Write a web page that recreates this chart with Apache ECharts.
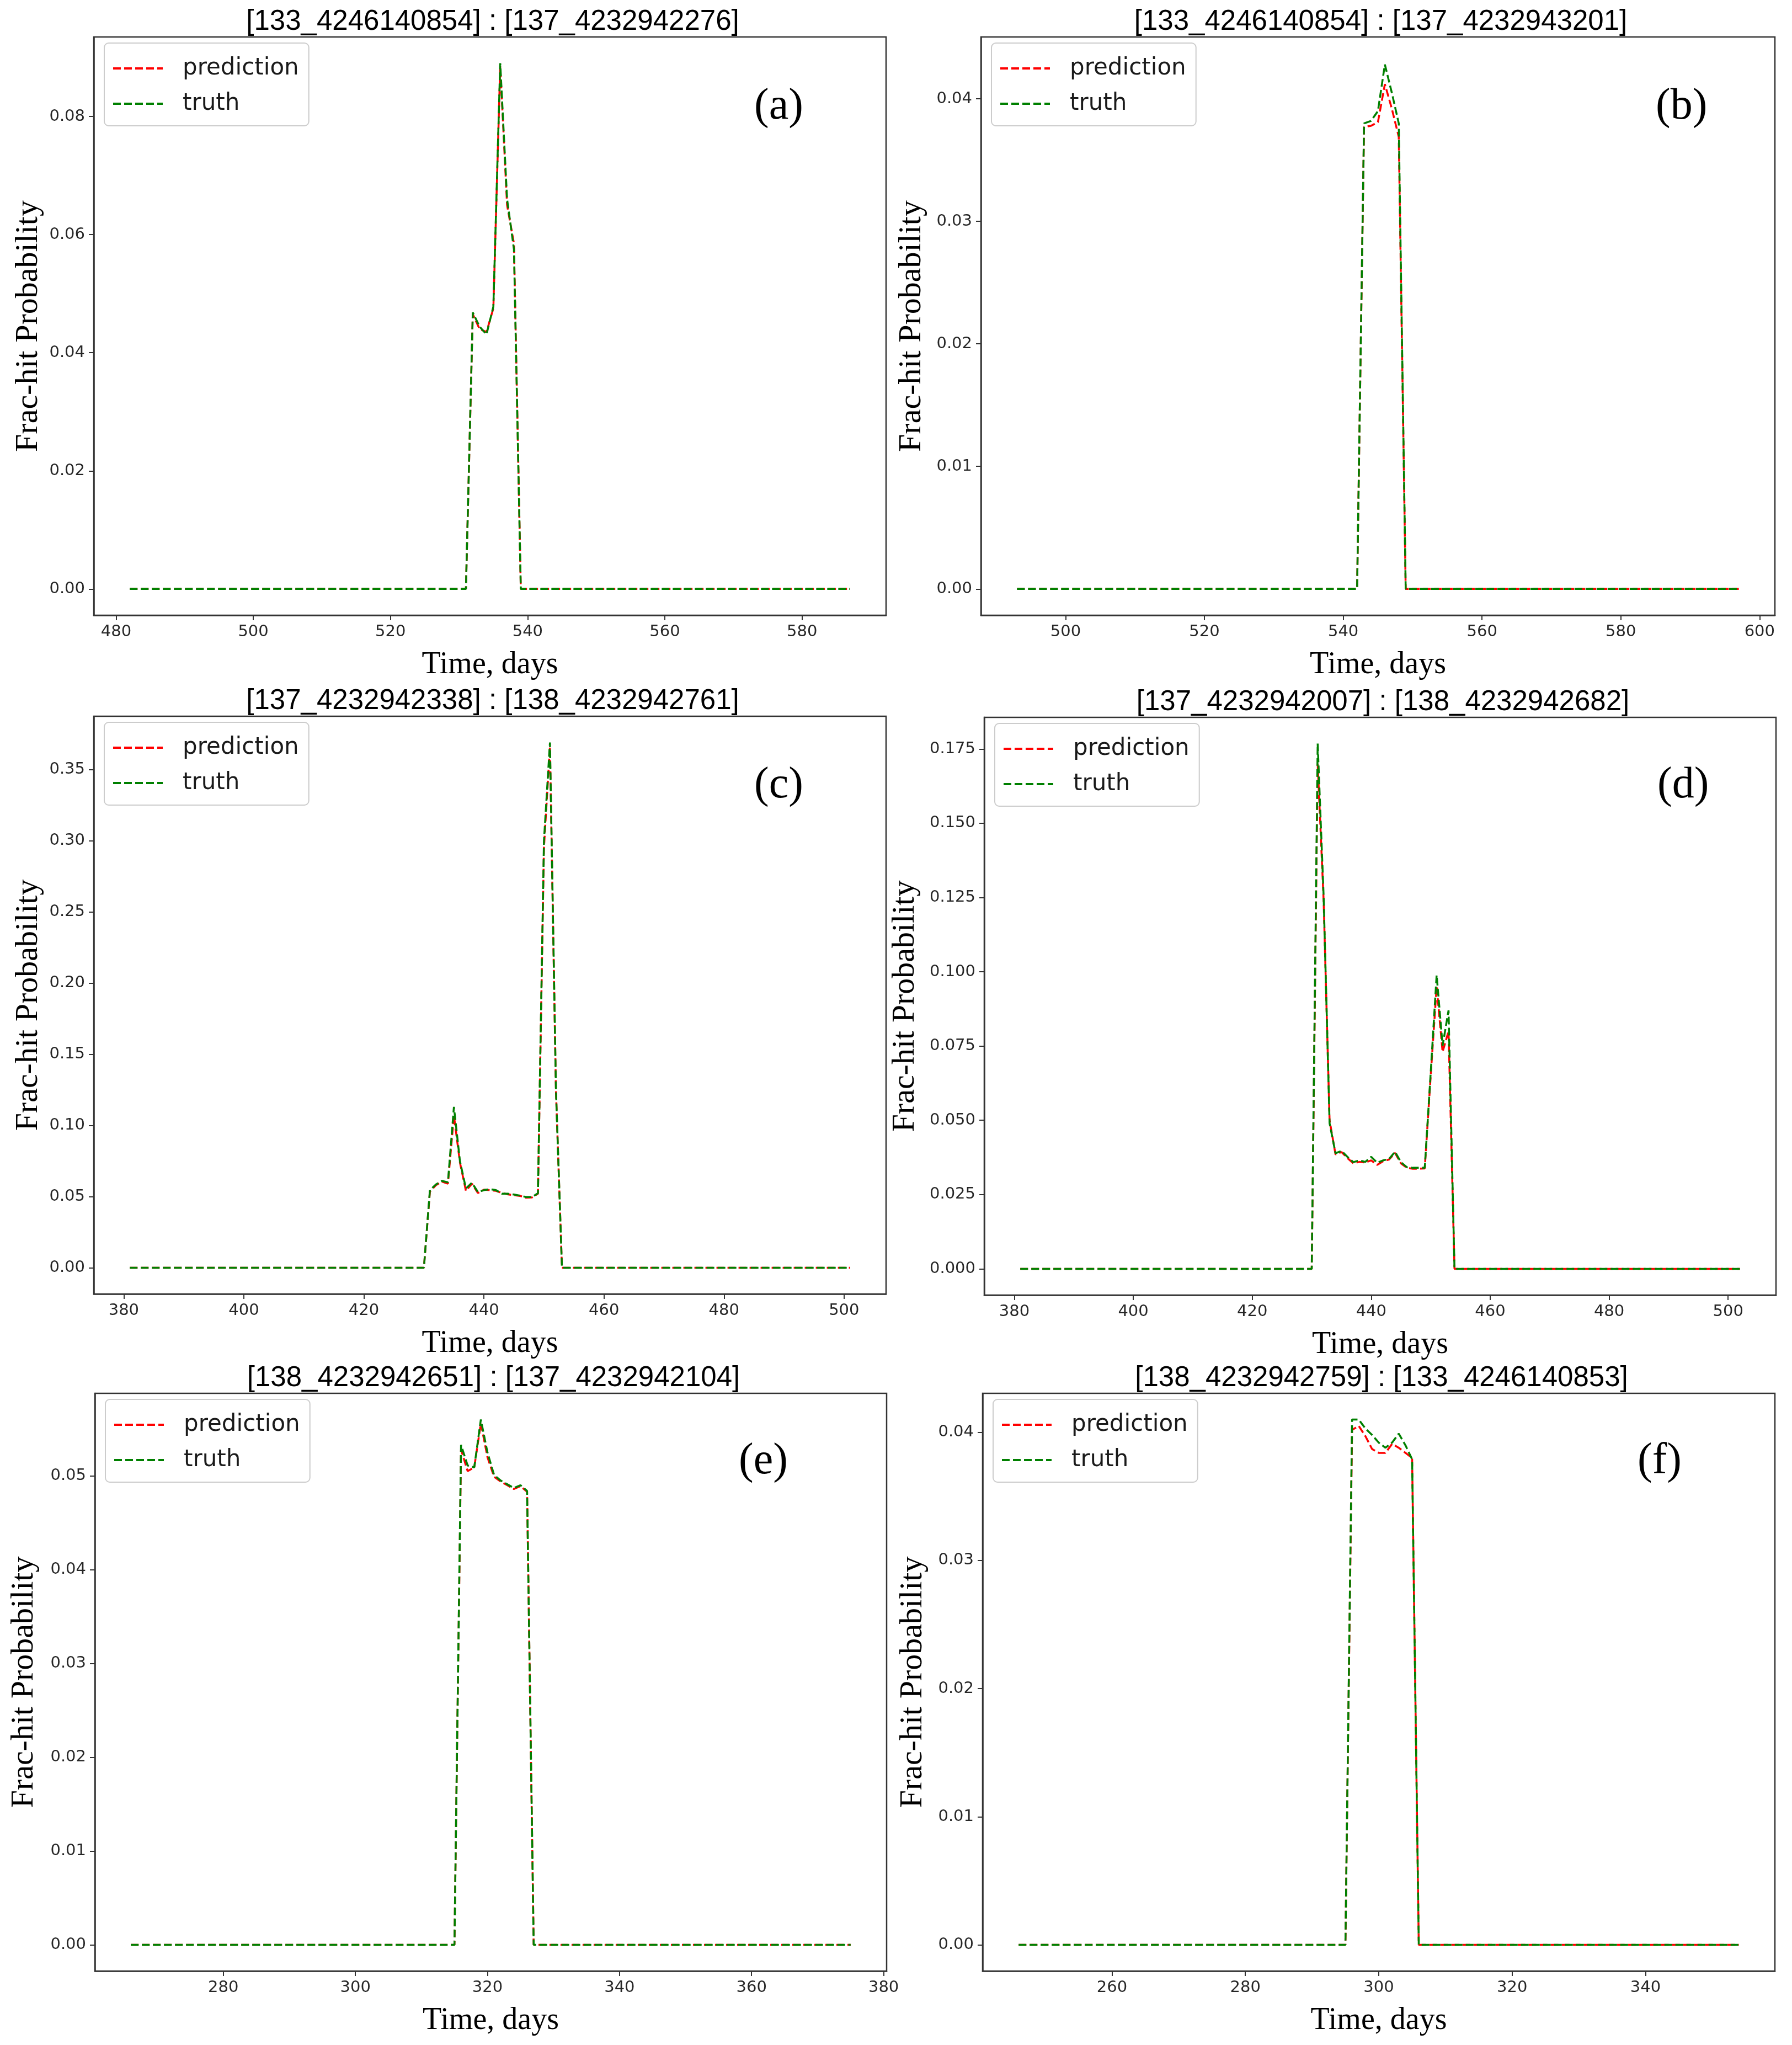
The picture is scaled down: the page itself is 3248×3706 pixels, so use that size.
<!DOCTYPE html>
<html>
<head>
<meta charset="utf-8">
<script src="https://cdn.jsdelivr.net/npm/echarts@6/dist/echarts.min.js"></script>
<style>
html,body{margin:0;padding:0;background:#fff;}
#chart{width:3248px;height:3706px;}
</style>
</head>
<body>
<div id="chart"></div>
<script>
// ---------------- data ----------------
// (a)
const aDays  = [482, 531, 532, 533, 534, 535, 536, 537, 538, 539, 587];
const aTruth = [0, 0, 0.0468, 0.0444, 0.0431, 0.0478, 0.0890, 0.0660, 0.0575, 0, 0];
const aPred  = [0, 0, 0.0465, 0.0440, 0.0435, 0.0475, 0.0885, 0.0650, 0.0585, 0, 0];
// (b)
const bDays  = [493, 542, 543, 544, 545, 546, 547, 548, 549, 597];
const bTruth = [0, 0, 0.0380, 0.0382, 0.0390, 0.0428, 0.0405, 0.0380, 0, 0];
const bPred  = [0, 0, 0.0377, 0.0378, 0.0381, 0.0412, 0.0392, 0.0369, 0, 0];
// (c)
const cDays  = [381, 430, 431, 432, 433, 434, 435, 436, 437, 438, 439, 440, 441, 442, 443, 444, 445, 446, 447, 448, 449, 450, 451, 452, 453, 501];
const cTruth = [0, 0, 0.0545, 0.0585, 0.0610, 0.0600, 0.1130, 0.0750, 0.0557, 0.0597, 0.0532, 0.0545, 0.0552, 0.0545, 0.0520, 0.0520, 0.0514, 0.0507, 0.0497, 0.0497, 0.0523, 0.300, 0.369, 0.125, 0, 0];
const cPred  = [0, 0, 0.0535, 0.0580, 0.0605, 0.0590, 0.1070, 0.0740, 0.0540, 0.0590, 0.0525, 0.0548, 0.0545, 0.0540, 0.0525, 0.0515, 0.0510, 0.0505, 0.0492, 0.0494, 0.0520, 0.295, 0.366, 0.124, 0, 0];
// (d)
const dDays  = [381, 430, 431, 432, 433, 434, 435, 436, 437, 438, 439, 440, 441, 442, 443, 444, 445, 446, 447, 448, 449, 450, 451, 452, 453, 454, 502];
const dTruth = [0, 0, 0.1768, 0.1254, 0.0490, 0.0389, 0.0397, 0.0377, 0.0359, 0.0365, 0.0360, 0.0377, 0.0357, 0.0365, 0.0370, 0.0394, 0.0359, 0.0342, 0.0340, 0.0340, 0.0340, 0.0660, 0.0989, 0.0751, 0.0870, 0, 0];
const dPred  = [0, 0, 0.1700, 0.1240, 0.0500, 0.0385, 0.0393, 0.0373, 0.0355, 0.0360, 0.0358, 0.0365, 0.0350, 0.0362, 0.0368, 0.0390, 0.0355, 0.0340, 0.0337, 0.0337, 0.0338, 0.0650, 0.0950, 0.0730, 0.0800, 0, 0];
// (e)
const eDays  = [266, 315, 316, 317, 318, 319, 320, 321, 322, 323, 324, 325, 326, 327, 375];
const eTruth = [0, 0, 0.0533, 0.0511, 0.0509, 0.0560, 0.0525, 0.0501, 0.0495, 0.0491, 0.0487, 0.0490, 0.0484, 0, 0];
const ePred  = [0, 0, 0.0528, 0.0505, 0.0509, 0.0556, 0.0520, 0.0499, 0.0494, 0.0490, 0.0486, 0.0489, 0.0483, 0, 0];
// (f)
const fDays  = [246, 295, 296, 297, 298, 299, 300, 301, 302, 303, 304, 305, 306, 354];
const fTruth = [0, 0, 0.0410, 0.0410, 0.0403, 0.0398, 0.0392, 0.0388, 0.0392, 0.0399, 0.0390, 0.0379, 0, 0];
const fPred  = [0, 0, 0.0402, 0.0405, 0.0397, 0.0387, 0.0384, 0.0384, 0.0391, 0.0388, 0.0384, 0.0380, 0, 0];

// tick labels
const aXTicks = [480, 500, 520, 540, 560, 580];
const aYTicks = [0, 0.02, 0.04, 0.06, 0.08];
const bXTicks = [500, 520, 540, 560, 580, 600];
const bYTicks = [0, 0.01, 0.02, 0.03, 0.04];
const cXTicks = [380, 400, 420, 440, 460, 480, 500];
const cYTicks = [0, 0.05, 0.10, 0.15, 0.20, 0.25, 0.30, 0.35];
const dXTicks = [380, 400, 420, 440, 460, 480, 500];
const dYTicks = [0, 0.025, 0.050, 0.075, 0.100, 0.125, 0.150, 0.175];
const eXTicks = [280, 300, 320, 340, 360, 380];
const eYTicks = [0, 0.01, 0.02, 0.03, 0.04, 0.05];
const fXTicks = [260, 280, 300, 320, 340];
const fYTicks = [0, 0.01, 0.02, 0.03, 0.04];

const titles = [
  '[133_4246140854] : [137_4232942276]',
  '[133_4246140854] : [137_4232943201]',
  '[137_4232942338] : [138_4232942761]',
  '[137_4232942007] : [138_4232942682]',
  '[138_4232942651] : [137_4232942104]',
  '[138_4232942759] : [133_4246140853]'
];
const letters = ['(a)', '(b)', '(c)', '(d)', '(e)', '(f)'];
const seriesNames = ['prediction', 'truth'];

// ---------------- layout ----------------
const panels = [
  {days:aDays, truth:aTruth, pred:aPred, xt:aXTicks, yt:aYTicks, dec:2, xr:[476.75,592.25], yr:[-0.00445,0.09345],
   grid:{left:170, top:67, width:1436, height:1048}, letter:[1413,198], yGap:89},
  {days:bDays, truth:bTruth, pred:bPred, xt:bXTicks, yt:bYTicks, dec:2, xr:[487.8,602.2], yr:[-0.00215,0.04505],
   grid:{left:1778, top:67, width:1439, height:1048}, letter:[3047,198], yGap:96},
  {days:cDays, truth:cTruth, pred:cPred, xt:cXTicks, yt:cYTicks, dec:2, xr:[375,507], yr:[-0.01845,0.38745],
   grid:{left:170, top:1298, width:1436, height:1047}, letter:[1413,1428], yGap:89},
  {days:dDays, truth:dTruth, pred:dPred, xt:dXTicks, yt:dYTicks, dec:3, xr:[374.95,508.05], yr:[-0.00884,0.18564],
   grid:{left:1784, top:1300, width:1435, height:1047}, letter:[3050,1428], yGap:114},
  {days:eDays, truth:eTruth, pred:ePred, xt:eXTicks, yt:eYTicks, dec:2, xr:[260.55,380.45], yr:[-0.0028,0.0588],
   grid:{left:172, top:2525, width:1435, height:1047}, letter:[1385,2653], yGap:99},
  {days:fDays, truth:fTruth, pred:fPred, xt:fXTicks, yt:fYTicks, dec:2, xr:[240.6,359.4], yr:[-0.00205,0.04305],
   grid:{left:1781, top:2525, width:1436, height:1047}, letter:[3014,2653], yGap:97}
];

const FRAME = '#333333';
const TICKCOL = '#262626';
const RED = '#ff0000';
const GREEN = '#008000';
// dashed legend sample (90 x 4)
const DASH_ICON = 'path://M0,0h14v4h-14zM20,0h14v4h-14zM40,0h14v4h-14zM60,0h14v4h-14zM80,0h10v4h-10z';

const option = {
  backgroundColor:'#ffffff',
  animation:false,
  grid:[], xAxis:[], yAxis:[], series:[], title:[], legend:[], graphic:[]
};

panels.forEach((p, i) => {
  option.grid.push(Object.assign({show:true, borderColor:FRAME, borderWidth:2.5, backgroundColor:'#fff', containLabel:false}, p.grid));
  option.xAxis.push({
    type:'value', gridIndex:i, min:p.xr[0], max:p.xr[1],
    name:'Time, days', nameLocation:'middle', nameGap:62,
    nameTextStyle:{fontFamily:'Liberation Serif', fontSize:56, color:'#000'},
    axisLine:{show:true, onZero:false, lineStyle:{color:FRAME, width:2.5}},
    axisTick:{show:true, length:9, lineStyle:{color:FRAME, width:2}, customValues:p.xt},
    axisLabel:{show:true, margin:16, fontFamily:'DejaVu Sans', fontSize:29, color:TICKCOL, customValues:p.xt,
      formatter:v => String(Math.round(v))},
    splitLine:{show:false}
  });
  option.yAxis.push({
    type:'value', gridIndex:i, min:p.yr[0], max:p.yr[1],
    name:'Frac-hit Probability', nameLocation:'middle', nameGap:p.yGap,
    nameTextStyle:{fontFamily:'Liberation Serif', fontSize:58, color:'#000'},
    axisLine:{show:true, onZero:false, lineStyle:{color:FRAME, width:2.5}},
    axisTick:{show:true, length:9, lineStyle:{color:FRAME, width:2}, customValues:p.yt},
    axisLabel:{show:true, margin:16, fontFamily:'DejaVu Sans', fontSize:29, color:TICKCOL, customValues:p.yt,
      formatter:v => Number(v).toFixed(p.dec)},
    splitLine:{show:false}
  });
  const predData = p.days.map((d, k) => [d, p.pred[k]]);
  const truthData = p.days.map((d, k) => [d, p.truth[k]]);
  option.series.push({
    type:'line', name:seriesNames[0], xAxisIndex:i, yAxisIndex:i, data:predData,
    showSymbol:false, symbol:'none', color:RED,
    lineStyle:{color:RED, width:3.5, type:[14,6]}, z:2
  });
  option.series.push({
    type:'line', name:seriesNames[1], xAxisIndex:i, yAxisIndex:i, data:truthData,
    showSymbol:false, symbol:'none', color:GREEN,
    lineStyle:{color:GREEN, width:3.5, type:[14,6]}, z:3
  });
  option.title.push({
    text:titles[i], left:p.grid.left + p.grid.width/2, top:p.grid.top - 58, textAlign:'center',
    textStyle:{fontFamily:'Liberation Sans', fontSize:51, fontWeight:'normal', color:'#000'}
  });
  option.legend.push({
    data:[{name:seriesNames[0], icon:DASH_ICON}, {name:seriesNames[1], icon:DASH_ICON}],
    orient:'vertical', left:p.grid.left + 19, top:p.grid.top + 11,
    itemWidth:90, itemHeight:4, itemGap:16,
    padding:[22, 18, 16, 16],
    backgroundColor:'rgba(255,255,255,0.8)', borderColor:'#cccccc', borderWidth:2, borderRadius:8,
    textStyle:{fontFamily:'DejaVu Sans', fontSize:42, color:'#1a1a1a', lineHeight:48, padding:[0,0,0,31]},
    selectedMode:false
  });
  option.graphic.push({
    type:'text', left:p.letter[0] - 46, top:p.letter[1] - 44,
    style:{text:letters[i], font:'80px "Liberation Serif"', fill:'#000'}, z:10
  });
});

const chart = echarts.init(document.getElementById('chart'), null, {renderer:'canvas'});
chart.setOption(option);
</script>
</body>
</html>
